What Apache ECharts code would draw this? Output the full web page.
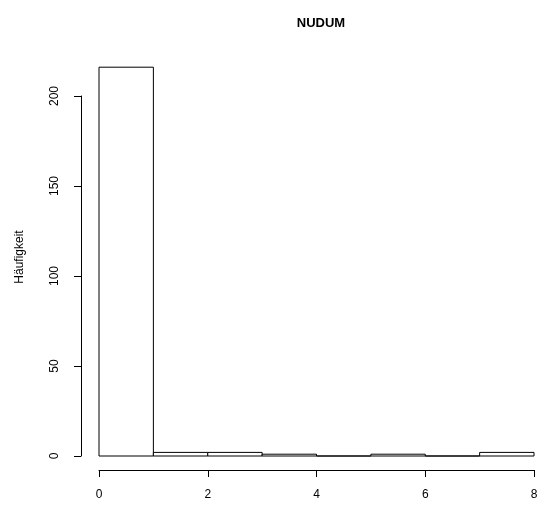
<!DOCTYPE html>
<html>
<head>
<meta charset="utf-8">
<script src="https://cdn.jsdelivr.net/npm/echarts@6/dist/echarts.min.js"></script>
<style>
  html, body { margin: 0; padding: 0; background: #fff; }
  #chart { width: 546px; height: 510px; }
</style>
</head>
<body>
<div id="chart"></div>
<script>
// Histogram of NUDUM: bin edges and counts per bin
const binStarts = [0, 1, 2, 3, 4, 5, 6, 7];
const binEnds   = [1, 2, 3, 4, 5, 6, 7, 8];
const counts    = [216, 2, 2, 1, 0, 1, 0, 2];
const xTicks = [0, 2, 4, 6, 8];
const yTicks = [0, 50, 100, 150, 200];

const FONT = '"Liberation Sans", Arial, sans-serif';
const chart = echarts.init(document.getElementById('chart'), null, { renderer: 'canvas' });

const barData = binStarts.map((s, i) => [s, binEnds[i], counts[i]]);

const axisCommon = {
  axisLine: { show: true, lineStyle: { color: '#000', width: 1 } },
  axisTick: { show: true, length: 7, lineStyle: { color: '#000' } },
  splitLine: { show: false }
};

chart.setOption({
  animation: false,
  backgroundColor: '#fff',
  title: {
    text: 'NUDUM',
    left: 316,
    top: 12,
    textAlign: 'center',
    textStyle: { fontFamily: FONT, fontSize: 13, fontWeight: 'bold', color: '#000' }
  },
  grid: [
    // data grid: 1.8 px per count, 0 at y=456
    { left: 99, right: 12, top: 24, bottom: 54 },
    // left axis, set apart from the bars
    { left: 81, right: 12, top: 96, bottom: 54 },
    // bottom axis, set below the baseline
    { left: 99, right: 12, top: 96, bottom: 40 }
  ],
  xAxis: [
    { gridIndex: 0, type: 'value', min: 0, max: 8, show: false },
    { gridIndex: 1, type: 'value', min: 0, max: 1, show: false },
    Object.assign({
      gridIndex: 2, type: 'value', min: xTicks[0], max: xTicks[xTicks.length - 1], interval: 2,
      position: 'bottom',
      axisLabel: { color: '#000', fontFamily: FONT, fontSize: 12, margin: 19 }
    }, axisCommon)
  ],
  yAxis: [
    { gridIndex: 0, type: 'value', min: 0, max: 240, show: false },
    Object.assign({
      gridIndex: 1, type: 'value', min: yTicks[0], max: yTicks[yTicks.length - 1], interval: 50,
      position: 'left',
      axisLabel: { color: '#000', fontFamily: FONT, fontSize: 12, rotate: 90, margin: 20 }
    }, axisCommon),
    { gridIndex: 2, type: 'value', min: 0, max: 1, show: false }
  ],
  graphic: [
    {
      type: 'text',
      x: 20, y: 257,
      rotation: Math.PI / 2,
      style: {
        text: 'Häufigkeit',
        font: '12px ' + FONT,
        fill: '#000',
        align: 'center',
        verticalAlign: 'middle'
      }
    }
  ],
  series: [
    {
      type: 'custom',
      xAxisIndex: 0,
      yAxisIndex: 0,
      clip: false,
      data: barData,
      renderItem: function (params, api) {
        const p0 = api.coord([api.value(0), api.value(2)]);
        const p1 = api.coord([api.value(1), 0]);
        return {
          type: 'rect',
          shape: { x: p0[0], y: p0[1], width: p1[0] - p0[0], height: p1[1] - p0[1] },
          style: { fill: '#fff', stroke: '#000', lineWidth: 1 }
        };
      }
    }
  ]
});
</script>
</body>
</html>
